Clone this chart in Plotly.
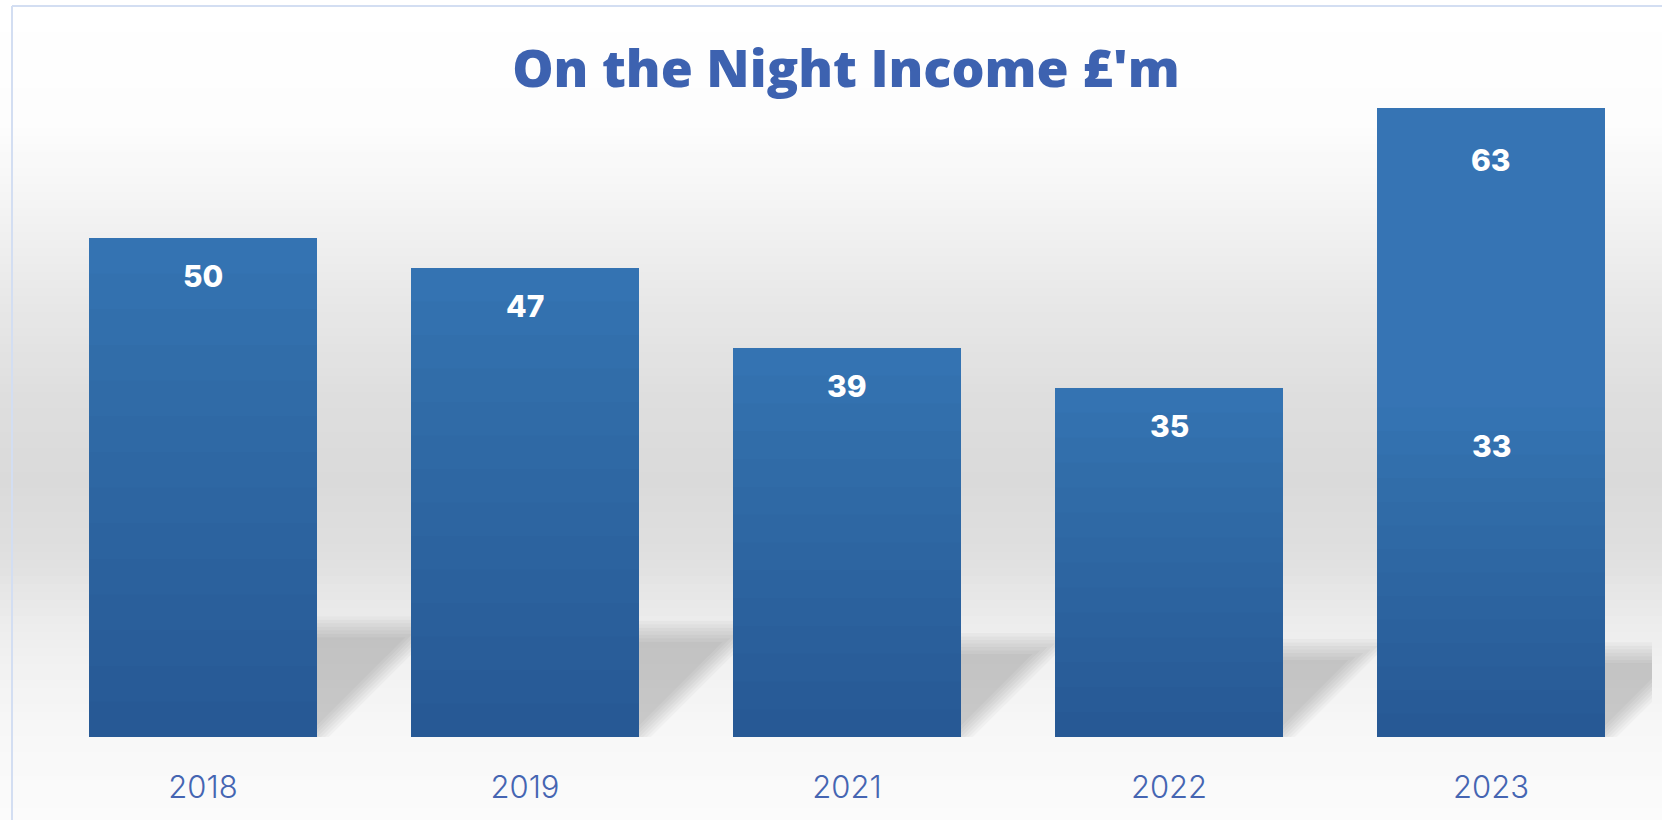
import plotly.graph_objects as go

# ---- data -------------------------------------------------------------
years = ["2018", "2019", "2021", "2022", "2023"]
income = [50, 47, 39, 35, 33]          # on-the-night income, £m
income_2023_total = 63                  # 2023 total including the extra amount
extra = [None, None, None, None, income_2023_total - income[-1]]

# ---- styling ----------------------------------------------------------
W, H = 1662, 820
M_L, M_R, M_T, M_B = 42, 10, 88, 83
Y_MAX = 65
PLOT_W = W - M_L - M_R
PLOT_H = H - M_T - M_B
PX_PER_UNIT = PLOT_H / Y_MAX
CAT_PX = PLOT_W / len(years)
BARGAP = 0.29
HALF_W = (1 - BARGAP) / 2

BAR_TOP = "#3575b5"
TEXT_BLUE = "#3d62b0"

pos = list(range(len(years)))   # slot index of each year on the x axis

fig = go.Figure()

fig.add_trace(go.Bar(
    x=pos, y=income, width=1 - BARGAP,
    marker=dict(color=BAR_TOP, line=dict(width=0)),
    customdata=years, hovertemplate="%{customdata}: %{y}<extra></extra>",
    showlegend=False,
))
fig.add_trace(go.Bar(
    x=pos, y=extra, width=1 - BARGAP,
    marker=dict(color="#3674b4", line=dict(width=0)),
    hoverinfo="skip", showlegend=False,
))

shapes = []

# soft vertical background gradient (paper coordinates span the full page)
stops = [(0, 255), (120, 253), (200, 245), (300, 232), (400, 222), (480, 218),
         (560, 224), (620, 236), (650, 240), (740, 248), (820, 251)]


def grey_at(py):
    for (y0, g0), (y1, g1) in zip(stops, stops[1:]):
        if y0 <= py <= y1:
            t = (py - y0) / (y1 - y0) if y1 > y0 else 0
            return g0 + (g1 - g0) * t
    return stops[-1][1]


def paper_y(py):
    return (H - M_B - py) / PLOT_H


def paper_x(px):
    return (px - M_L) / PLOT_W


step = 8
for py in range(0, H, step):
    g = int(round(grey_at(py + step / 2)))
    shapes.append(dict(
        type="rect", xref="paper", yref="paper", layer="below",
        x0=paper_x(0), x1=paper_x(W), y0=paper_y(py + step), y1=paper_y(py),
        fillcolor=f"rgb({g},{g},{g})", line=dict(width=0),
    ))

# floor shadows cast to the right of each bar, with feathered edges
for i, v in enumerate(income):
    h = 0.153 * v + 3.4
    xr = i + HALF_W
    for k in range(-3, 4):
        hk = h + k * 0.35
        ek = k * 0.012
        dx = hk * PX_PER_UNIT / CAT_PX
        path = (f"M {xr - 0.05},0 L {xr + ek},0 L {xr + ek + dx},{hk} "
                f"L {xr - 0.05},{hk} Z")
        shapes.append(dict(
            type="path", xref="x", yref="y", layer="below", path=path,
            fillcolor="rgba(0,0,0,0.028)", line=dict(width=0),
        ))

# darkening toward the base of each main bar (vertical shading)
N_BANDS = 14
for i, v in enumerate(income):
    for k in range(1, N_BANDS + 1):
        shapes.append(dict(
            type="rect", xref="x", yref="y", layer="above",
            x0=i - HALF_W, x1=i + HALF_W, y0=0, y1=v * k / N_BANDS,
            fillcolor="rgba(10,20,40,0.011)", line=dict(width=0),
        ))

# thin frame along the top and left edges
frame = "#d3def2"
shapes.append(dict(type="line", xref="paper", yref="paper",
                   x0=paper_x(12), x1=paper_x(12), y0=paper_y(H), y1=paper_y(6),
                   line=dict(color=frame, width=2)))
shapes.append(dict(type="line", xref="paper", yref="paper",
                   x0=paper_x(12), x1=paper_x(W), y0=paper_y(6), y1=paper_y(6),
                   line=dict(color=frame, width=2)))

# value labels inside the top of each bar
label_font = dict(family="Inter, Open Sans, sans-serif", size=30, color="white",
                  weight=800)
annotations = []
for p, v in zip(pos, income):
    annotations.append(dict(x=p, y=v, text=str(v), showarrow=False,
                            yshift=-38, font=label_font))
annotations.append(dict(x=pos[-1], y=income_2023_total,
                        text=str(income_2023_total), showarrow=False,
                        yshift=-52, font=label_font))

fig.update_layout(
    width=W, height=H,
    margin=dict(l=M_L, r=M_R, t=M_T, b=M_B),
    paper_bgcolor="white", plot_bgcolor="rgba(0,0,0,0)",
    barmode="stack",
    title=dict(text="On the Night Income £'m", x=846 / W, xanchor="center",
               y=1 - 69 / H, yanchor="middle",
               font=dict(family="Open Sans, Inter, sans-serif", size=52,
                         color=TEXT_BLUE, weight=800)),
    xaxis=dict(range=[-0.5, len(years) - 0.5], tickmode="array",
               tickvals=pos, ticktext=years,
               showgrid=False, zeroline=False, showline=False,
               ticks="", ticklabelstandoff=29,
               tickfont=dict(family="Inter, Lato, sans-serif", size=31,
                             color="#4565b2", weight=300)),
    yaxis=dict(range=[0, Y_MAX], visible=False, showgrid=False, zeroline=False),
    shapes=shapes, annotations=annotations, showlegend=False,
)

fig.write_html("out.html")
